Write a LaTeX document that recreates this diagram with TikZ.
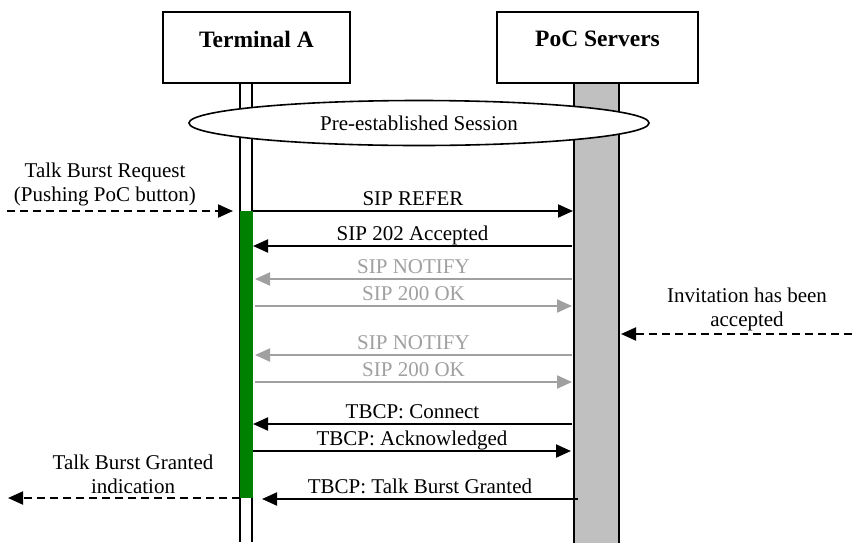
\documentclass[tikz,border=0pt]{standalone}
\usepackage{fontspec}
\setmainfont{Liberation Serif}
\usetikzlibrary{arrows.meta,shapes.geometric}
\definecolor{msggray}{RGB}{160,160,160}
\definecolor{bargray}{RGB}{192,192,192}
\definecolor{actgreen}{RGB}{0,128,0}
\tikzset{
  x=1pt, y=-1pt,
  txt/.style={font=\fontsize{21}{24}\selectfont, inner sep=0pt},
  entity/.style={draw, line width=1.6pt, fill=white},
  entitytext/.style={font=\fontsize{23.5}{26}\bfseries\selectfont, inner sep=0pt},
  msg/.style={line width=2pt, -{Triangle[length=15pt,width=13pt]}},
  gmsg/.style={line width=2pt, draw=msggray, -{Triangle[length=15pt,width=13pt,fill=msggray]}},
  ext/.style={line width=2pt, dash pattern=on 8pt off 5pt, -{Triangle[length=15pt,width=13pt]}},
  lbl/.style={txt, anchor=base, yshift=6pt},
  glbl/.style={lbl, text=msggray},
}
\begin{document}
\begin{tikzpicture}
\useasboundingbox (0,0) rectangle (852,542);
\fill[white] (0,0) rectangle (852,542);

% lifelines
\draw[line width=1.5pt] (240,83) -- (240,542);
\draw[line width=1.5pt] (252,83) -- (252,542);
\draw[line width=1.5pt, fill=bargray] (574,83) rectangle (619,545);

% entity boxes
\draw[entity] (163,12) rectangle (350,83);
\node[entitytext] (ta) at (256.5,39) {Terminal A};
\draw[entity] (497,12) rectangle (698,83);
\node[entitytext] (poc) at (597.5,39) {PoC Servers};

% session ellipse
\node[draw, line width=1.6pt, fill=white, ellipse, minimum width=460pt, minimum height=45pt, txt] (sess) at (419,123) {Pre-established Session};

% activation bar
\fill[actgreen] (240,211) rectangle (253,498);

% coordinates
\coordinate (extA1) at (7,211);
\coordinate (tA1) at (233,211);
\coordinate (a1) at (253,211);   \coordinate (s1) at (573,211);
\coordinate (a2) at (253,246);   \coordinate (s2) at (572,246);
\coordinate (a3) at (255,279);   \coordinate (s3) at (572,279);
\coordinate (a4) at (255,306);   \coordinate (s4) at (572,306);
\coordinate (extS) at (852,334); \coordinate (sS) at (621,334);
\coordinate (a5) at (255,355);   \coordinate (s5) at (572,355);
\coordinate (a6) at (255,382);   \coordinate (s6) at (572,382);
\coordinate (a7) at (253,424);   \coordinate (s7) at (572,424);
\coordinate (a8) at (253,451);   \coordinate (s8) at (571,451);
\coordinate (a9) at (262,499);   \coordinate (s9) at (578,499);
\coordinate (tA2) at (240,498);  \coordinate (extA2) at (8,498);

% external triggers
\draw[ext] (extA1) -- (tA1);
\node[txt, align=center, anchor=base] (treq) at (105,201) {Talk Burst Request\\(Pushing PoC button)};
\draw[ext] (extS) -- (sS);
\node[txt, align=center, anchor=base] (inv) at (747,326) {Invitation has been\\accepted};
\draw[ext] (tA2) -- (extA2);
\node[txt, align=center, anchor=base] (tbg) at (133,493) {Talk Burst Granted\\indication};

% messages
\draw[msg] (a1) -- (s1) node[lbl, midway] (m1) {SIP REFER};
\draw[msg] (s2) -- (a2) node[lbl, midway] (m2) {SIP 202 Accepted};
\draw[gmsg] (s3) -- (a3) node[glbl, midway] (m3) {SIP NOTIFY};
\draw[gmsg] (a4) -- (s4) node[glbl, midway] (m4) {SIP 200 OK};
\draw[gmsg] (s5) -- (a5) node[glbl, midway] (m5) {SIP NOTIFY};
\draw[gmsg] (a6) -- (s6) node[glbl, midway] (m6) {SIP 200 OK};
\draw[msg] (s7) -- (a7) node[lbl, midway] (m7) {TBCP: Connect};
\draw[msg] (a8) -- (s8) node[lbl, midway] (m8) {TBCP: Acknowledged};
\draw[msg] (s9) -- (a9) node[lbl, midway] (m9) {TBCP: Talk Burst Granted};
\end{tikzpicture}
\end{document}
